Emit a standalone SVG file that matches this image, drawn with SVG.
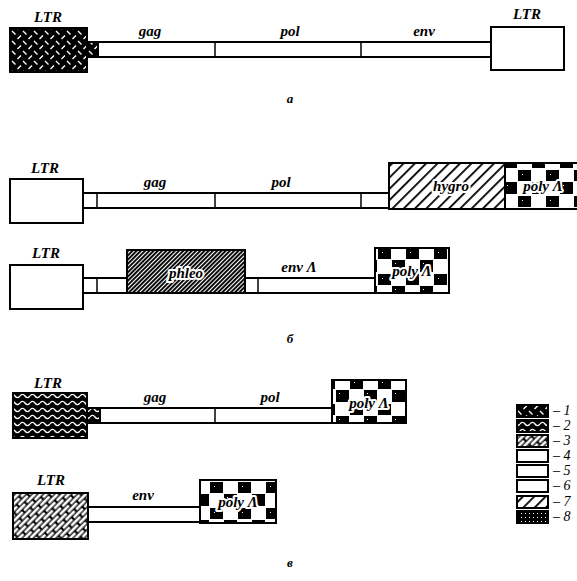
<svg xmlns="http://www.w3.org/2000/svg" width="577" height="581" viewBox="0 0 577 581">
<style>
.box{stroke:#000;stroke-width:2;fill:#fff}
.bar{stroke:#000;stroke-width:2;fill:#fff}
.div{stroke:#000;stroke-width:1.5}
.t{font-family:"Liberation Serif","DejaVu Serif",serif;font-style:italic;font-weight:bold;font-size:15px;fill:#000;text-anchor:middle}
.h{paint-order:stroke;stroke:#fff;stroke-width:4px;stroke-linejoin:round}
.lg{font-family:"Liberation Serif","DejaVu Serif",serif;font-style:italic;font-size:14px;fill:#000}
</style>
<defs>
<pattern id="p1" width="11" height="10" patternUnits="userSpaceOnUse"><rect width="11" height="10" fill="#000"/><path d="M1,1 L4.5,4.5 M6.5,9 L10,5.5" stroke="#fff" stroke-width="1.4"/></pattern>
<pattern id="p2" width="10" height="7" patternUnits="userSpaceOnUse"><rect width="10" height="7" fill="#000"/><path d="M0,4 Q2.5,0.8 5,4 T10,4" fill="none" stroke="#fff" stroke-width="1.4"/></pattern>
<pattern id="p3" width="15" height="8" patternUnits="userSpaceOnUse" patternTransform="rotate(-45)"><rect width="15" height="8" fill="#000"/><rect x="1" y="0.8" width="13" height="2.8" rx="1.2" fill="#fff"/><rect x="-6.5" y="4.8" width="13" height="2.8" rx="1.2" fill="#fff"/><rect x="8.5" y="4.8" width="13" height="2.8" rx="1.2" fill="#fff"/></pattern>
<pattern id="p7" width="8" height="8" patternUnits="userSpaceOnUse" patternTransform="rotate(45)"><rect width="8" height="8" fill="#fff"/><rect x="0" y="0" width="1.8" height="8" fill="#000"/></pattern>
<pattern id="p8" width="3" height="3" patternUnits="userSpaceOnUse" patternTransform="rotate(45)"><rect width="3" height="3" fill="#fff"/><rect x="0" y="0" width="1.9" height="3" fill="#000"/></pattern>
<pattern id="pd" width="4" height="4" patternUnits="userSpaceOnUse"><rect width="4" height="4" fill="#000"/><rect x="1" y="1" width="1" height="1" fill="#fff"/></pattern>
<pattern id="poly" width="28" height="26" patternUnits="userSpaceOnUse"><rect width="28" height="26" fill="#fff"/><rect x="0" y="0" width="13" height="12" fill="#000"/><rect x="14" y="14" width="13" height="11" fill="#000"/><rect x="3" y="3" width="1" height="1" fill="#fff"/><rect x="18" y="18" width="1" height="1" fill="#fff"/></pattern>
</defs>

<!-- row a -->
<g id="a-ltr1"><rect class="box" x="10" y="28" width="77" height="44" style="fill:url(#p1)"/><text class="t" x="48" y="22">LTR</text></g>
<g id="a-bar"><rect class="bar" x="87" y="42" width="11" height="15" style="fill:url(#p1)"/><rect class="bar" x="98" y="42" width="393" height="15"/><line class="div" x1="215" y1="42" x2="215" y2="57"/><line class="div" x1="361" y1="42" x2="361" y2="57"/>
<text class="t" x="150" y="36">gag</text><text class="t" x="290" y="36">pol</text><text class="t" x="424" y="36">env</text></g>
<g id="a-ltr2"><rect class="box" x="491" y="27" width="73" height="43"/><text class="t" x="527" y="19">LTR</text></g>
<g id="label-a"><text class="t" x="290" y="103" style="font-size:13px">a</text></g>

<!-- row b1 -->
<g id="b1-ltr"><rect class="box" x="10" y="179" width="73" height="44"/><text class="t" x="45" y="173">LTR</text></g>
<g id="b1-bar"><rect class="bar" x="83" y="193" width="306" height="15"/><line class="div" x1="97" y1="193" x2="97" y2="208"/><line class="div" x1="215" y1="193" x2="215" y2="208"/><line class="div" x1="361" y1="193" x2="361" y2="208"/>
<text class="t" x="155" y="187">gag</text><text class="t" x="281" y="187">pol</text></g>
<g id="b1-hygro"><rect class="box" x="389" y="163" width="116" height="46" style="fill:url(#p7)"/><text class="t h" x="451" y="191">hygro</text></g>
<g id="b1-poly"><rect class="box" x="505" y="163" width="74" height="46" style="fill:url(#poly)"/><text class="t h" x="543" y="191">poly Λ</text></g>

<!-- row b2 -->
<g id="b2-ltr"><rect class="box" x="10" y="265" width="73" height="44"/><text class="t" x="46" y="258">LTR</text></g>
<g id="b2-bar1"><rect class="bar" x="83" y="278" width="44" height="15"/><line class="div" x1="97" y1="278" x2="97" y2="293"/></g>
<g id="b2-phleo"><rect class="box" x="127" y="250" width="118" height="43" style="fill:url(#p8)"/><text class="t h" x="186" y="278">phleo</text></g>
<g id="b2-bar2"><rect class="bar" x="245" y="278" width="130" height="15"/><line class="div" x1="258" y1="278" x2="258" y2="293"/><text class="t" x="299" y="272">env Λ</text></g>
<g id="b2-poly"><rect class="box" x="375" y="248" width="74" height="45" style="fill:url(#poly)"/><text class="t h" x="412" y="276">poly Λ</text></g>
<g id="label-b"><text class="t" x="290" y="343" style="font-size:13px">б</text></g>

<!-- row c1 -->
<g id="c1-ltr"><rect class="box" x="13" y="393" width="74" height="45" style="fill:url(#p2)"/><text class="t" x="48" y="388">LTR</text></g>
<g id="c1-bar"><rect class="bar" x="87" y="408" width="13" height="15" style="fill:url(#p2)"/><rect class="bar" x="100" y="408" width="232" height="15"/><line class="div" x1="215" y1="408" x2="215" y2="423"/>
<text class="t" x="155" y="402">gag</text><text class="t" x="270" y="402">pol</text></g>
<g id="c1-poly"><rect class="box" x="332" y="380" width="74" height="43" style="fill:url(#poly)"/><text class="t h" x="369" y="408">poly Λ</text></g>

<!-- row c2 -->
<g id="c2-ltr"><rect class="box" x="13" y="493" width="75" height="46" style="fill:url(#p3)"/><text class="t" x="51" y="485">LTR</text></g>
<g id="c2-bar"><rect class="bar" x="88" y="507" width="112" height="15"/><text class="t" x="143" y="500">env</text></g>
<g id="c2-poly"><rect class="box" x="200" y="480" width="76" height="43" style="fill:url(#poly)"/><text class="t h" x="238" y="507">poly Λ</text></g>
<g id="label-c"><text class="t" x="290" y="567" style="font-size:13px">в</text></g>

<!-- legend -->
<g id="legend">
<rect class="box" x="517" y="405" width="31" height="12" style="fill:url(#p1)"/><text class="lg" x="553" y="415">– 1</text>
<rect class="box" x="517" y="420" width="31" height="12" style="fill:url(#p2)"/><text class="lg" x="553" y="430">– 2</text>
<rect class="box" x="517" y="435" width="31" height="12" style="fill:url(#p3)"/><text class="lg" x="553" y="445">– 3</text>
<rect class="box" x="517" y="450" width="31" height="12"/><text class="lg" x="553" y="460">– 4</text>
<rect class="box" x="517" y="465" width="31" height="12"/><text class="lg" x="553" y="475">– 5</text>
<rect class="box" x="517" y="480" width="31" height="12"/><text class="lg" x="553" y="490">– 6</text>
<rect class="box" x="517" y="496" width="31" height="12" style="fill:url(#p7)"/><text class="lg" x="553" y="506">– 7</text>
<rect class="box" x="517" y="511" width="31" height="12" style="fill:url(#pd)"/><text class="lg" x="553" y="521">– 8</text>
</g>
</svg>
